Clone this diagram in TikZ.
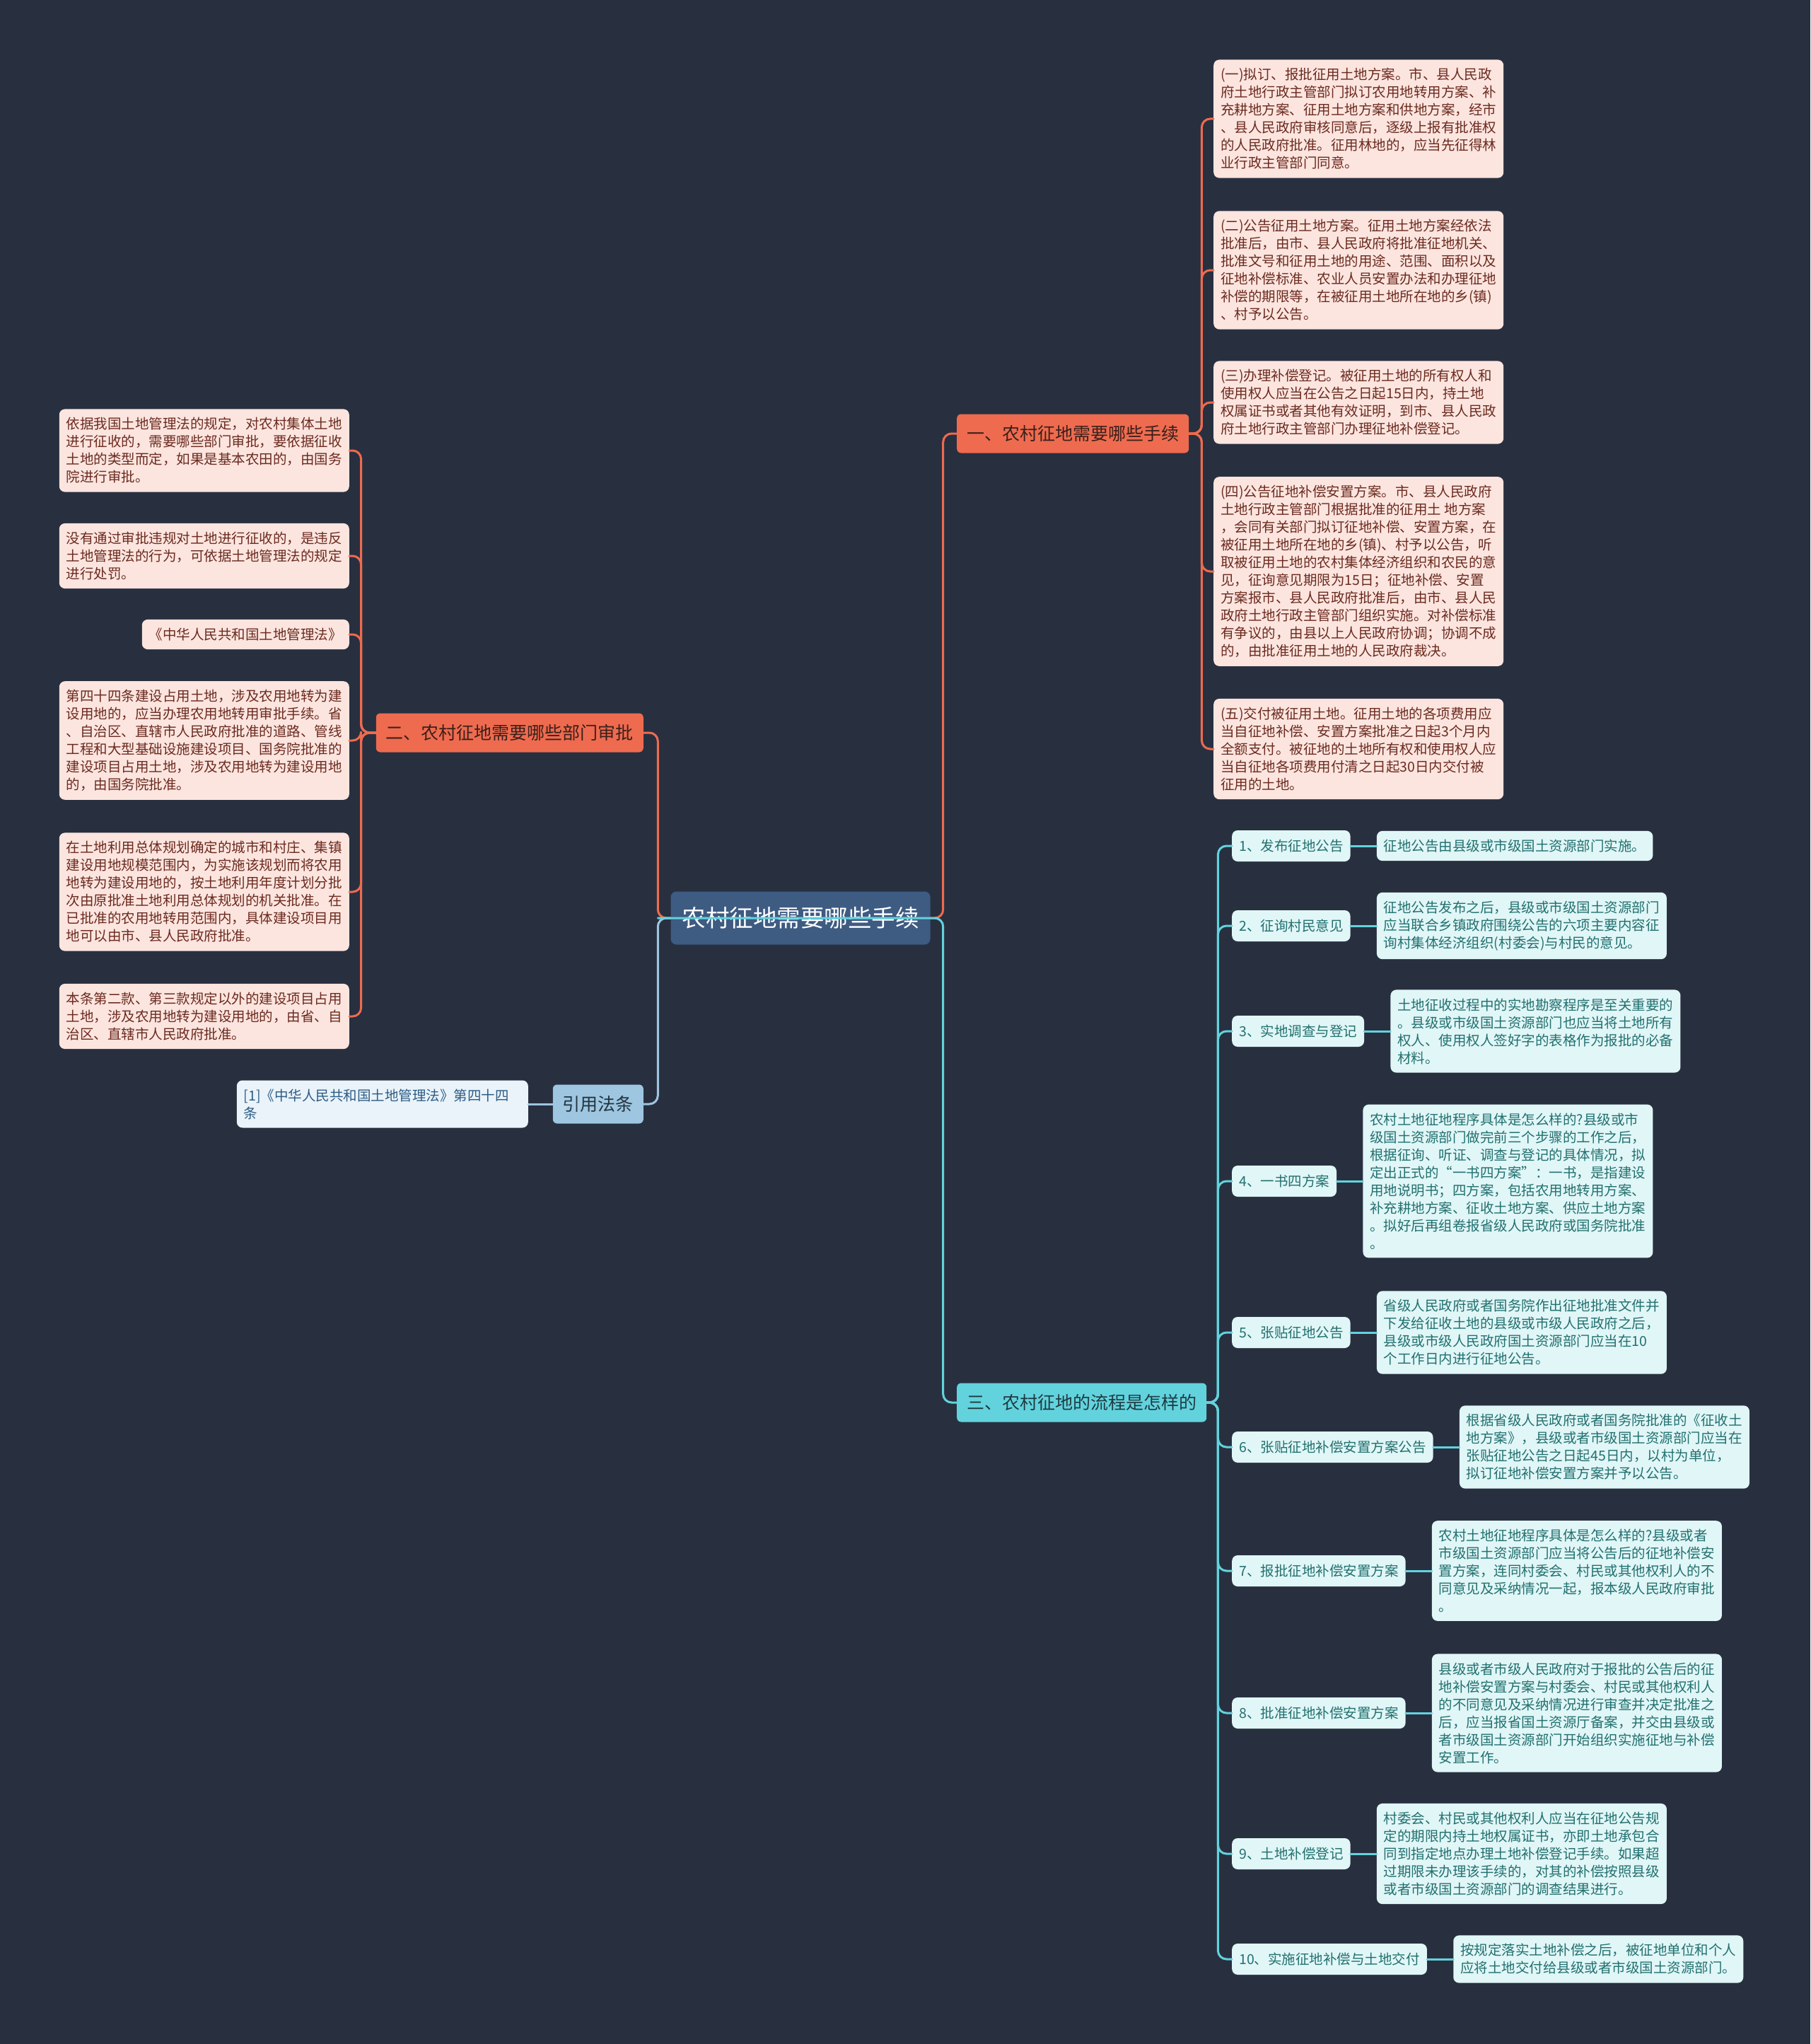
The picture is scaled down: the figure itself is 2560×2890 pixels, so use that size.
\documentclass[tikz,border=0pt]{standalone}
\usepackage{fontspec}
\setmainfont{Noto Sans CJK SC}
\usetikzlibrary{positioning,calc}
\definecolor{landBg}{HTML}{283040}
\definecolor{landRoot}{HTML}{3E5B82}
\definecolor{landCoral}{HTML}{EE6B4F}
\definecolor{landCoralInk}{HTML}{3B1F1A}
\definecolor{landBlush}{HTML}{FCE5DF}
\definecolor{landRust}{HTML}{6B2A1F}
\definecolor{landCyan}{HTML}{62D3DD}
\definecolor{landCyanInk}{HTML}{1F3B42}
\definecolor{landMint}{HTML}{E1F6F7}
\definecolor{landTealInk}{HTML}{22706F}
\definecolor{landSky}{HTML}{9EC6E0}
\definecolor{landSkyInk}{HTML}{22333F}
\definecolor{landIce}{HTML}{EAF3F9}
\definecolor{landNavyInk}{HTML}{2C5C85}
\begin{document}
\begin{tikzpicture}[x=1pt,y=-1pt,line cap=round,line join=round]
\path[fill=landBg] (0,0) rectangle (2560,2890);
\tikzset{txt/.style={font=\fontsize{19.5}{25}\selectfont,align=left,inner xsep=10pt,inner ysep=12pt,rounded corners=8pt},pinkbox/.style={txt,fill=landBlush,text=landRust},mintbox/.style={txt,fill=landMint,text=landTealInk},stepbox/.style={mintbox,minimum height=44pt,anchor=west},topic/.style={font=\fontsize{25}{30}\selectfont,inner xsep=14pt,inner ysep=13pt,minimum height=55pt,rounded corners=6pt},coralwire/.style={draw=landCoral,line width=3pt,rounded corners=12pt},cyanwire/.style={draw=landCyan,line width=3pt,rounded corners=12pt},skywire/.style={draw=landSky,line width=3pt,rounded corners=12pt}}
% centre and the four main branches
\node[fill=landRoot,text=white,font=\fontsize{33.5}{40}\selectfont,inner xsep=16pt,minimum height=75pt,rounded corners=8pt] (root) at (1132,1298) {农村征地需要哪些手续};
\node[topic,fill=landCoral,text=landCoralInk,anchor=west] (sec1) at (1353,613) {一、农村征地需要哪些手续};
\node[topic,fill=landCoral,text=landCoralInk,anchor=east] (sec2) at (910,1036) {二、农村征地需要哪些部门审批};
\node[topic,fill=landCyan,text=landCyanInk,anchor=west] (sec3) at (1353,1983) {三、农村征地的流程是怎样的};
\node[topic,fill=landSky,text=landSkyInk,anchor=east] (cite) at (910,1561) {引用法条};
\node[txt,text width=392pt,fill=landIce,text=landNavyInk,anchor=east] (ref) at (747,1561) {[1]《中华人民共和国土地管理法》第四十四\\条};
% branch one
\node[pinkbox,anchor=west] (a1) at (1716,168) {(一)拟订、报批征用土地方案。市、县人民政\\府土地行政主管部门拟订农用地转用方案、补\\充耕地方案、征用土地方案和供地方案，经市\\、县人民政府审核同意后，逐级上报有批准权\\的人民政府批准。征用林地的，应当先征得林\\业行政主管部门同意。};
\node[pinkbox,anchor=west] (a2) at (1716,382) {(二)公告征用土地方案。征用土地方案经依法\\批准后，由市、县人民政府将批准征地机关、\\批准文号和征用土地的用途、范围、面积以及\\征地补偿标准、农业人员安置办法和办理征地\\补偿的期限等，在被征用土地所在地的乡(镇)\\、村予以公告。};
\node[pinkbox,anchor=west] (a3) at (1716,569) {(三)办理补偿登记。被征用土地的所有权人和\\使用权人应当在公告之日起15日内，持土地\\权属证书或者其他有效证明，到市、县人民政\\府土地行政主管部门办理征地补偿登记。};
\node[pinkbox,anchor=west] (a4) at (1716,808) {(四)公告征地补偿安置方案。市、县人民政府\\土地行政主管部门根据批准的征用土 地方案\\，会同有关部门拟订征地补偿、安置方案，在\\被征用土地所在地的乡(镇)、村予以公告，听\\取被征用土地的农村集体经济组织和农民的意\\见，征询意见期限为15日；征地补偿、安置\\方案报市、县人民政府批准后，由市、县人民\\政府土地行政主管部门组织实施。对补偿标准\\有争议的，由县以上人民政府协调；协调不成\\的，由批准征用土地的人民政府裁决。};
\node[pinkbox,anchor=west] (a5) at (1716,1059) {(五)交付被征用土地。征用土地的各项费用应\\当自征地补偿、安置方案批准之日起3个月内\\全额支付。被征地的土地所有权和使用权人应\\当自征地各项费用付清之日起30日内交付被\\征用的土地。};
% branch two
\node[pinkbox,anchor=east] (b1) at (494,637) {依据我国土地管理法的规定，对农村集体土地\\进行征收的，需要哪些部门审批，要依据征收\\土地的类型而定，如果是基本农田的，由国务\\院进行审批。};
\node[pinkbox,anchor=east] (b2) at (494,786) {没有通过审批违规对土地进行征收的，是违反\\土地管理法的行为，可依据土地管理法的规定\\进行处罚。};
\node[pinkbox,anchor=east] (b3) at (494,897) {《中华人民共和国土地管理法》};
\node[pinkbox,anchor=east] (b4) at (494,1047) {第四十四条建设占用土地，涉及农用地转为建\\设用地的，应当办理农用地转用审批手续。省\\、自治区、直辖市人民政府批准的道路、管线\\工程和大型基础设施建设项目、国务院批准的\\建设项目占用土地，涉及农用地转为建设用地\\的，由国务院批准。};
\node[pinkbox,anchor=east] (b5) at (494,1261) {在土地利用总体规划确定的城市和村庄、集镇\\建设用地规模范围内，为实施该规划而将农用\\地转为建设用地的，按土地利用年度计划分批\\次由原批准土地利用总体规划的机关批准。在\\已批准的农用地转用范围内，具体建设项目用\\地可以由市、县人民政府批准。};
\node[pinkbox,anchor=east] (b6) at (494,1437) {本条第二款、第三款规定以外的建设项目占用\\土地，涉及农用地转为建设用地的，由省、自\\治区、直辖市人民政府批准。};
% branch three: steps and their notes
\node[stepbox] (s1) at (1742,1196) {1、发布征地公告};
\node[mintbox,right=37pt of s1] (t1) {征地公告由县级或市级国土资源部门实施。};
\node[stepbox] (s2) at (1742,1309) {2、征询村民意见};
\node[mintbox,right=37pt of s2] (t2) {征地公告发布之后，县级或市级国土资源部门\\应当联合乡镇政府围绕公告的六项主要内容征\\询村集体经济组织(村委会)与村民的意见。};
\node[stepbox] (s3) at (1742,1458) {3、实地调查与登记};
\node[mintbox,right=37pt of s3] (t3) {土地征收过程中的实地勘察程序是至关重要的\\。县级或市级国土资源部门也应当将土地所有\\权人、使用权人签好字的表格作为报批的必备\\材料。};
\node[stepbox] (s4) at (1742,1670) {4、一书四方案};
\node[mintbox,right=37pt of s4] (t4) {农村土地征地程序具体是怎么样的?县级或市\\级国土资源部门做完前三个步骤的工作之后，\\根据征询、听证、调查与登记的具体情况，拟\\定出正式的“一书四方案”：一书，是指建设\\用地说明书；四方案，包括农用地转用方案、\\补充耕地方案、征收土地方案、供应土地方案\\。拟好后再组卷报省级人民政府或国务院批准\\。};
\node[stepbox] (s5) at (1742,1884) {5、张贴征地公告};
\node[mintbox,right=37pt of s5] (t5) {省级人民政府或者国务院作出征地批准文件并\\下发给征收土地的县级或市级人民政府之后，\\县级或市级人民政府国土资源部门应当在10\\个工作日内进行征地公告。};
\node[stepbox] (s6) at (1742,2046) {6、张贴征地补偿安置方案公告};
\node[mintbox,right=37pt of s6] (t6) {根据省级人民政府或者国务院批准的《征收土\\地方案》，县级或者市级国土资源部门应当在\\张贴征地公告之日起45日内，以村为单位，\\拟订征地补偿安置方案并予以公告。};
\node[stepbox] (s7) at (1742,2221) {7、报批征地补偿安置方案};
\node[mintbox,right=37pt of s7] (t7) {农村土地征地程序具体是怎么样的?县级或者\\市级国土资源部门应当将公告后的征地补偿安\\置方案，连同村委会、村民或其他权利人的不\\同意见及采纳情况一起，报本级人民政府审批\\。};
\node[stepbox] (s8) at (1742,2422) {8、批准征地补偿安置方案};
\node[mintbox,right=37pt of s8] (t8) {县级或者市级人民政府对于报批的公告后的征\\地补偿安置方案与村委会、村民或其他权利人\\的不同意见及采纳情况进行审查并决定批准之\\后，应当报省国土资源厅备案，并交由县级或\\者市级国土资源部门开始组织实施征地与补偿\\安置工作。};
\node[stepbox] (s9) at (1742,2621) {9、土地补偿登记};
\node[mintbox,right=37pt of s9] (t9) {村委会、村民或其他权利人应当在征地公告规\\定的期限内持土地权属证书，亦即土地承包合\\同到指定地点办理土地补偿登记手续。如果超\\过期限未办理该手续的，对其的补偿按照县级\\或者市级国土资源部门的调查结果进行。};
\node[stepbox] (s10) at (1742,2770) {10、实施征地补偿与土地交付};
\node[mintbox,right=37pt of s10] (t10) {按规定落实土地补偿之后，被征地单位和个人\\应将土地交付给县级或者市级国土资源部门。};
% connectors
\draw[coralwire] (root.east) -- ++(18,0) |- (sec1.west);
\draw[coralwire] (root.west) -- ++(-18,0) |- (sec2.east);
\draw[skywire] (root.west) -- ++(-18,0) |- (cite.east);
\draw[cyanwire] ($(root.west)+(-18,0)$) -- ($(root.east)+(18,0)$) |- (sec3.west);
\foreach \k in {1,...,5} \draw[coralwire] (sec1.east) -- ++(18,0) |- (a\k.west);
\foreach \k in {1,...,6} \draw[coralwire] (sec2.west) -- ++(-21,0) |- (b\k.east);
\foreach \k in {1,...,10} {\draw[cyanwire] (sec3.east) -- ++(16,0) |- (s\k.west); \draw[cyanwire] (s\k.east) -- (t\k.west);}
\draw[skywire] (cite.west) -- (ref.east);
\end{tikzpicture}
\end{document}
